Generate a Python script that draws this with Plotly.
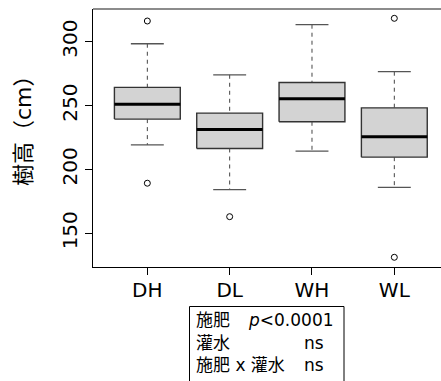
import plotly.graph_objects as go

# ---- data ----
groups = ["DH", "DL", "WH", "WL"]
whisker_low = [219.2, 184.2, 214.3, 186.0]
q1 = [239.4, 216.4, 237.3, 209.6]
median = [251.1, 231.3, 255.3, 225.5]
q3 = [264.2, 244.1, 268.1, 248.2]
whisker_high = [298.4, 274.1, 313.3, 276.5]
outliers = [[316.2, 189.2], [163.0], [], [318.3, 131.2]]
y_ticks = [150, 200, 250, 300]
y_title = "樹高（cm）"
stats_rows = [("施肥", "<i>p</i><0.0001"), ("灌水", "ns"), ("施肥 x 灌水", "ns")]

W, H = 441, 381
ML, MR, MT, MB = 93, 0, 9, 114
PW, PH = W - ML - MR, H - MT - MB
FONT = "DejaVu Sans, Noto Sans CJK JP, sans-serif"

fig = go.Figure()
half = 0.4
cap = 0.2
for i, g in enumerate(groups):
    x = i + 1
    # box
    fig.add_trace(go.Scatter(
        x=[x - half, x + half, x + half, x - half, x - half],
        y=[q1[i], q1[i], q3[i], q3[i], q1[i]],
        mode="lines", fill="toself", fillcolor="#D3D3D3",
        line=dict(color="#333333", width=1.4), hoverinfo="skip", showlegend=False))
    # median
    fig.add_trace(go.Scatter(
        x=[x - half, x + half], y=[median[i], median[i]], mode="lines",
        line=dict(color="black", width=3), hoverinfo="skip", showlegend=False))
    # whiskers
    for a, b in ((whisker_high[i], q3[i]), (q1[i], whisker_low[i])):
        fig.add_trace(go.Scatter(
            x=[x, x], y=[a, b], mode="lines",
            line=dict(color="#444444", width=1, dash="4px,4px"),
            hoverinfo="skip", showlegend=False))
    # caps
    for v in (whisker_high[i], whisker_low[i]):
        fig.add_trace(go.Scatter(
            x=[x - cap, x + cap], y=[v, v], mode="lines",
            line=dict(color="#555555", width=1.3), hoverinfo="skip", showlegend=False))
    # outliers
    if outliers[i]:
        fig.add_trace(go.Scatter(
            x=[x] * len(outliers[i]), y=outliers[i], mode="markers",
            marker=dict(symbol="circle-open", size=6, color="black", line=dict(width=1)),
            hoverinfo="skip", showlegend=False))

def px_x(p):
    return (p - ML) / PW

def px_y(p):
    return (MT + PH - p) / PH

annotations = [
    dict(text=y_title, xref="paper", yref="paper", x=px_x(23), y=px_y(125),
         textangle=-90, showarrow=False, xanchor="center", yanchor="middle",
         font=dict(size=22, color="black", family=FONT)),
]
row_y = [320, 343, 365]
second_x = [246, 302, 302]
for (lab, val), yy, sx in zip(stats_rows, row_y, second_x):
    annotations.append(dict(text=lab, xref="paper", yref="paper", x=px_x(194), y=px_y(yy),
                            showarrow=False, xanchor="left", yanchor="middle",
                            font=dict(size=17, color="black", family=FONT)))
    annotations.append(dict(text=val, xref="paper", yref="paper", x=px_x(sx), y=px_y(yy),
                            showarrow=False, xanchor="left", yanchor="middle",
                            font=dict(size=17, color="black", family=FONT)))

fig.update_layout(
    width=W, height=H,
    margin=dict(l=ML, r=MR, t=MT, b=MB, pad=0),
    paper_bgcolor="white", plot_bgcolor="white",
    font=dict(family=FONT, color="black"),
    showlegend=False,
    annotations=annotations,
    shapes=[
        dict(type="rect", xref="paper", yref="paper",
             x0=px_x(189.5), x1=px_x(344), y0=px_y(420), y1=px_y(306.5),
             line=dict(color="black", width=1), fillcolor="rgba(0,0,0,0)"),
        dict(type="line", xref="paper", yref="paper", x0=0, x1=1, y0=1, y1=1,
             line=dict(color="#666666", width=1.5)),
    ],
    xaxis=dict(range=[0.34, 4.567], tickmode="array", tickvals=[1, 2, 3, 4], ticktext=groups,
               showgrid=False, zeroline=False, showline=True, linecolor="black", linewidth=1,
               mirror=False, ticks="outside", ticklen=7, tickcolor="black",
               ticklabelstandoff=-2,
               tickfont=dict(size=20, family=FONT, color="black")),
    yaxis=dict(range=[123.6, 325.6], tickmode="array", tickvals=y_ticks,
               showgrid=False, zeroline=False, showline=True, linecolor="black", linewidth=1,
               ticks="outside", ticklen=7, tickcolor="black", tickangle=-90,
               tickfont=dict(size=20, family=FONT, color="black")),
)

fig.write_html("out.html")
